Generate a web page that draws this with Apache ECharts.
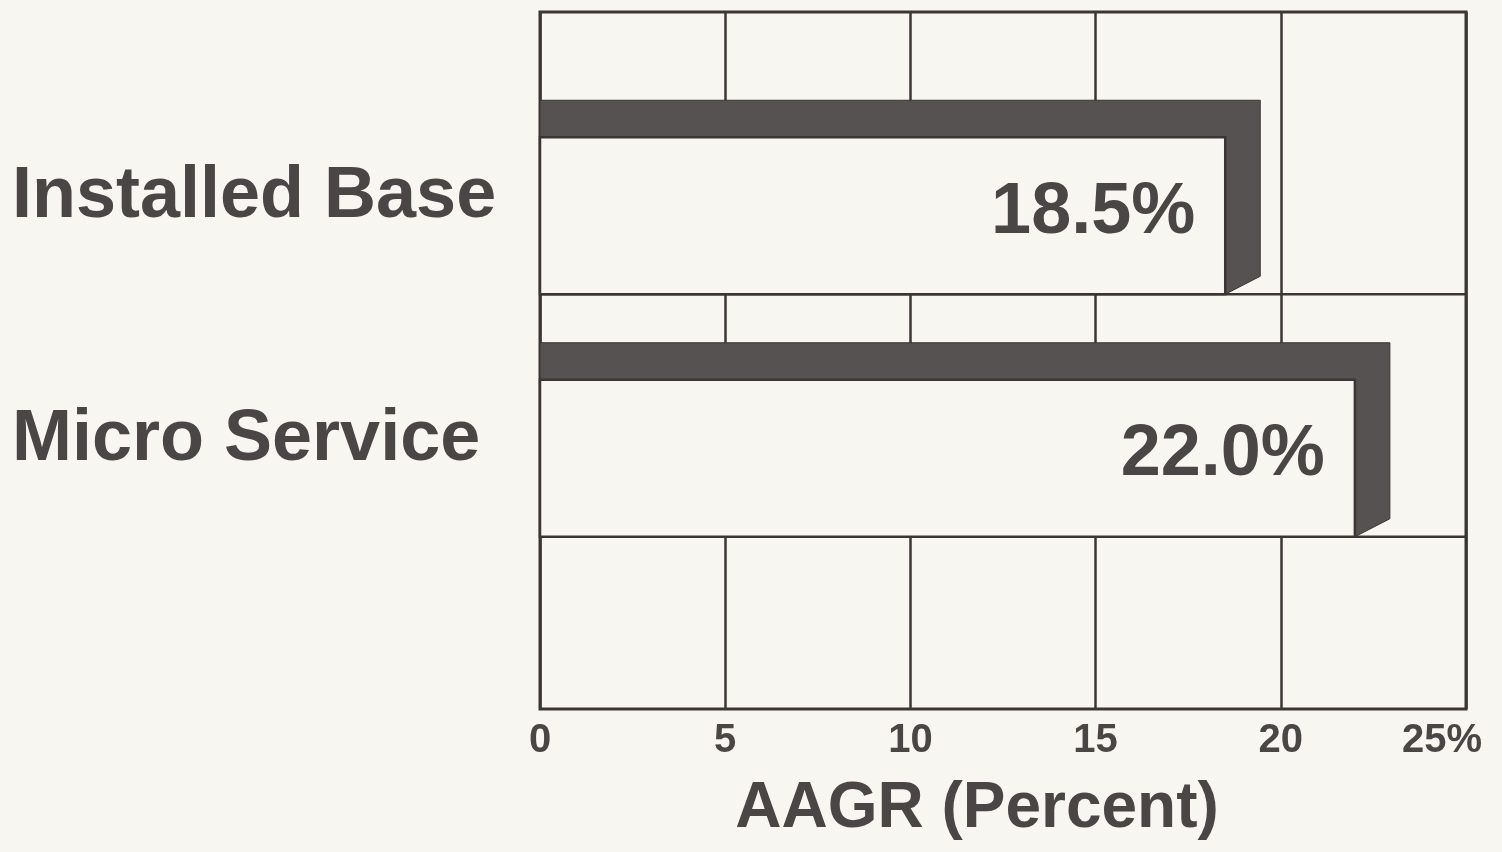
<!DOCTYPE html>
<html>
<head>
<meta charset="utf-8">
<script src="https://cdn.jsdelivr.net/npm/echarts@6/dist/echarts.min.js"></script>
<style>
  html, body { margin: 0; padding: 0; background: #f8f6f0; }
  #chart { width: 1502px; height: 852px; }
</style>
</head>
<body>
<div id="chart"></div>
<script>
// Average annual growth rates, top to bottom
const categories = ['Installed Base', 'Micro Service'];
const growthRates = [18.5, 22.0];
const axisTicks = [0, 5, 10, 15, 20, 25];
const AXIS_MIN = 0;
const AXIS_MAX = 25;
const AXIS_STEP = 5;
const axisTitle = 'AAGR (Percent)';

const BG = '#f8f6f0';
const INK = '#3a3636';
const TEXT = '#4a4646';
const SHADE = '#575252';
const FONT = '"Liberation Sans", Arial, Helvetica, sans-serif';

const chart = echarts.init(document.getElementById('chart'), null, { renderer: 'canvas' });

// Extruded bar: dark top/right bevel, light face, and a rule along the face bottom
function renderBar(params, api) {
  const v = api.value(0);
  const idx = api.value(1);
  const base = api.coord([AXIS_MIN, idx]);
  const tip = api.coord([v, idx]);
  const far = api.coord([AXIS_MAX, idx]);
  const band = api.size([0, 1])[1];
  const total = band * 0.8;
  const dx = 35, dy = 37, bevel = 18;
  const x0 = base[0], x1 = tip[0];
  const top = base[1] - total / 2;
  const bottom = base[1] + total / 2;
  const faceTop = top + dy;
  return {
    type: 'group',
    children: [
      {
        type: 'line',
        shape: { x1: x0, y1: bottom, x2: far[0], y2: bottom },
        style: { stroke: INK, lineWidth: 2.5 }
      },
      {
        type: 'polygon',
        shape: { points: [[x0, top], [x1 + dx, top], [x1 + dx, bottom - bevel], [x1, bottom], [x1, faceTop], [x0, faceTop]] },
        style: { fill: SHADE, stroke: INK, lineWidth: 1 }
      },
      {
        type: 'rect',
        shape: { x: x0, y: faceTop, width: x1 - x0, height: bottom - faceTop },
        style: { fill: BG, stroke: INK, lineWidth: 2.5 }
      },
      {
        type: 'text',
        style: {
          x: x1 - 30,
          y: (faceTop + bottom) / 2 - 3,
          text: v.toFixed(1) + '%',
          align: 'right',
          verticalAlign: 'middle',
          fill: TEXT,
          font: 'bold 72px ' + FONT
        }
      }
    ]
  };
}

const option = {
  backgroundColor: BG,
  animation: false,
  grid: [
    { left: 540, right: 36, top: 12, bottom: 143, show: true, borderColor: INK, borderWidth: 3, backgroundColor: 'transparent' },
    { left: 540, right: 36, top: 76, height: 485 }
  ],
  xAxis: [
    {
      gridIndex: 0,
      type: 'value',
      min: AXIS_MIN,
      max: AXIS_MAX,
      interval: AXIS_STEP,
      axisLine: { show: false },
      axisTick: { show: false },
      splitLine: { show: true, lineStyle: { color: INK, width: 2.5 } },
      axisLabel: {
        margin: 12,
        color: TEXT,
        fontFamily: FONT,
        fontWeight: 'bold',
        fontSize: 40,
        formatter: function (val) {
          if (axisTicks.indexOf(val) < 0) return '';
          return val === AXIS_MAX ? '{last|' + val + '%}' : String(val);
        },
        rich: {
          last: { fontFamily: FONT, fontWeight: 'bold', fontSize: 40, color: TEXT, padding: [0, 48, 0, 0] }
        }
      },
      name: '{t|' + axisTitle + '}',
      nameLocation: 'middle',
      nameGap: 68,
      nameTextStyle: {
        rich: {
          t: { fontFamily: FONT, fontWeight: 'bold', fontSize: 64, color: TEXT, padding: [0, 52, 0, 0] }
        }
      }
    },
    {
      gridIndex: 1,
      type: 'value',
      min: AXIS_MIN,
      max: AXIS_MAX,
      show: false
    }
  ],
  yAxis: [
    { gridIndex: 0, type: 'value', show: false, splitLine: { show: false } },
    {
      gridIndex: 1,
      type: 'category',
      data: categories,
      inverse: true,
      axisLine: { show: false },
      axisTick: { show: false },
      splitLine: { show: false },
      axisLabel: {
        align: 'left',
        margin: 528,
        color: TEXT,
        fontFamily: FONT,
        fontWeight: 'bold',
        fontSize: 72
      }
    }
  ],
  series: [
    {
      type: 'custom',
      xAxisIndex: 1,
      yAxisIndex: 1,
      renderItem: renderBar,
      encode: { x: 0, y: 1 },
      data: growthRates.map(function (v, i) { return [v, i]; }),
      z: 5
    }
  ]
};

chart.setOption(option);
</script>
</body>
</html>
